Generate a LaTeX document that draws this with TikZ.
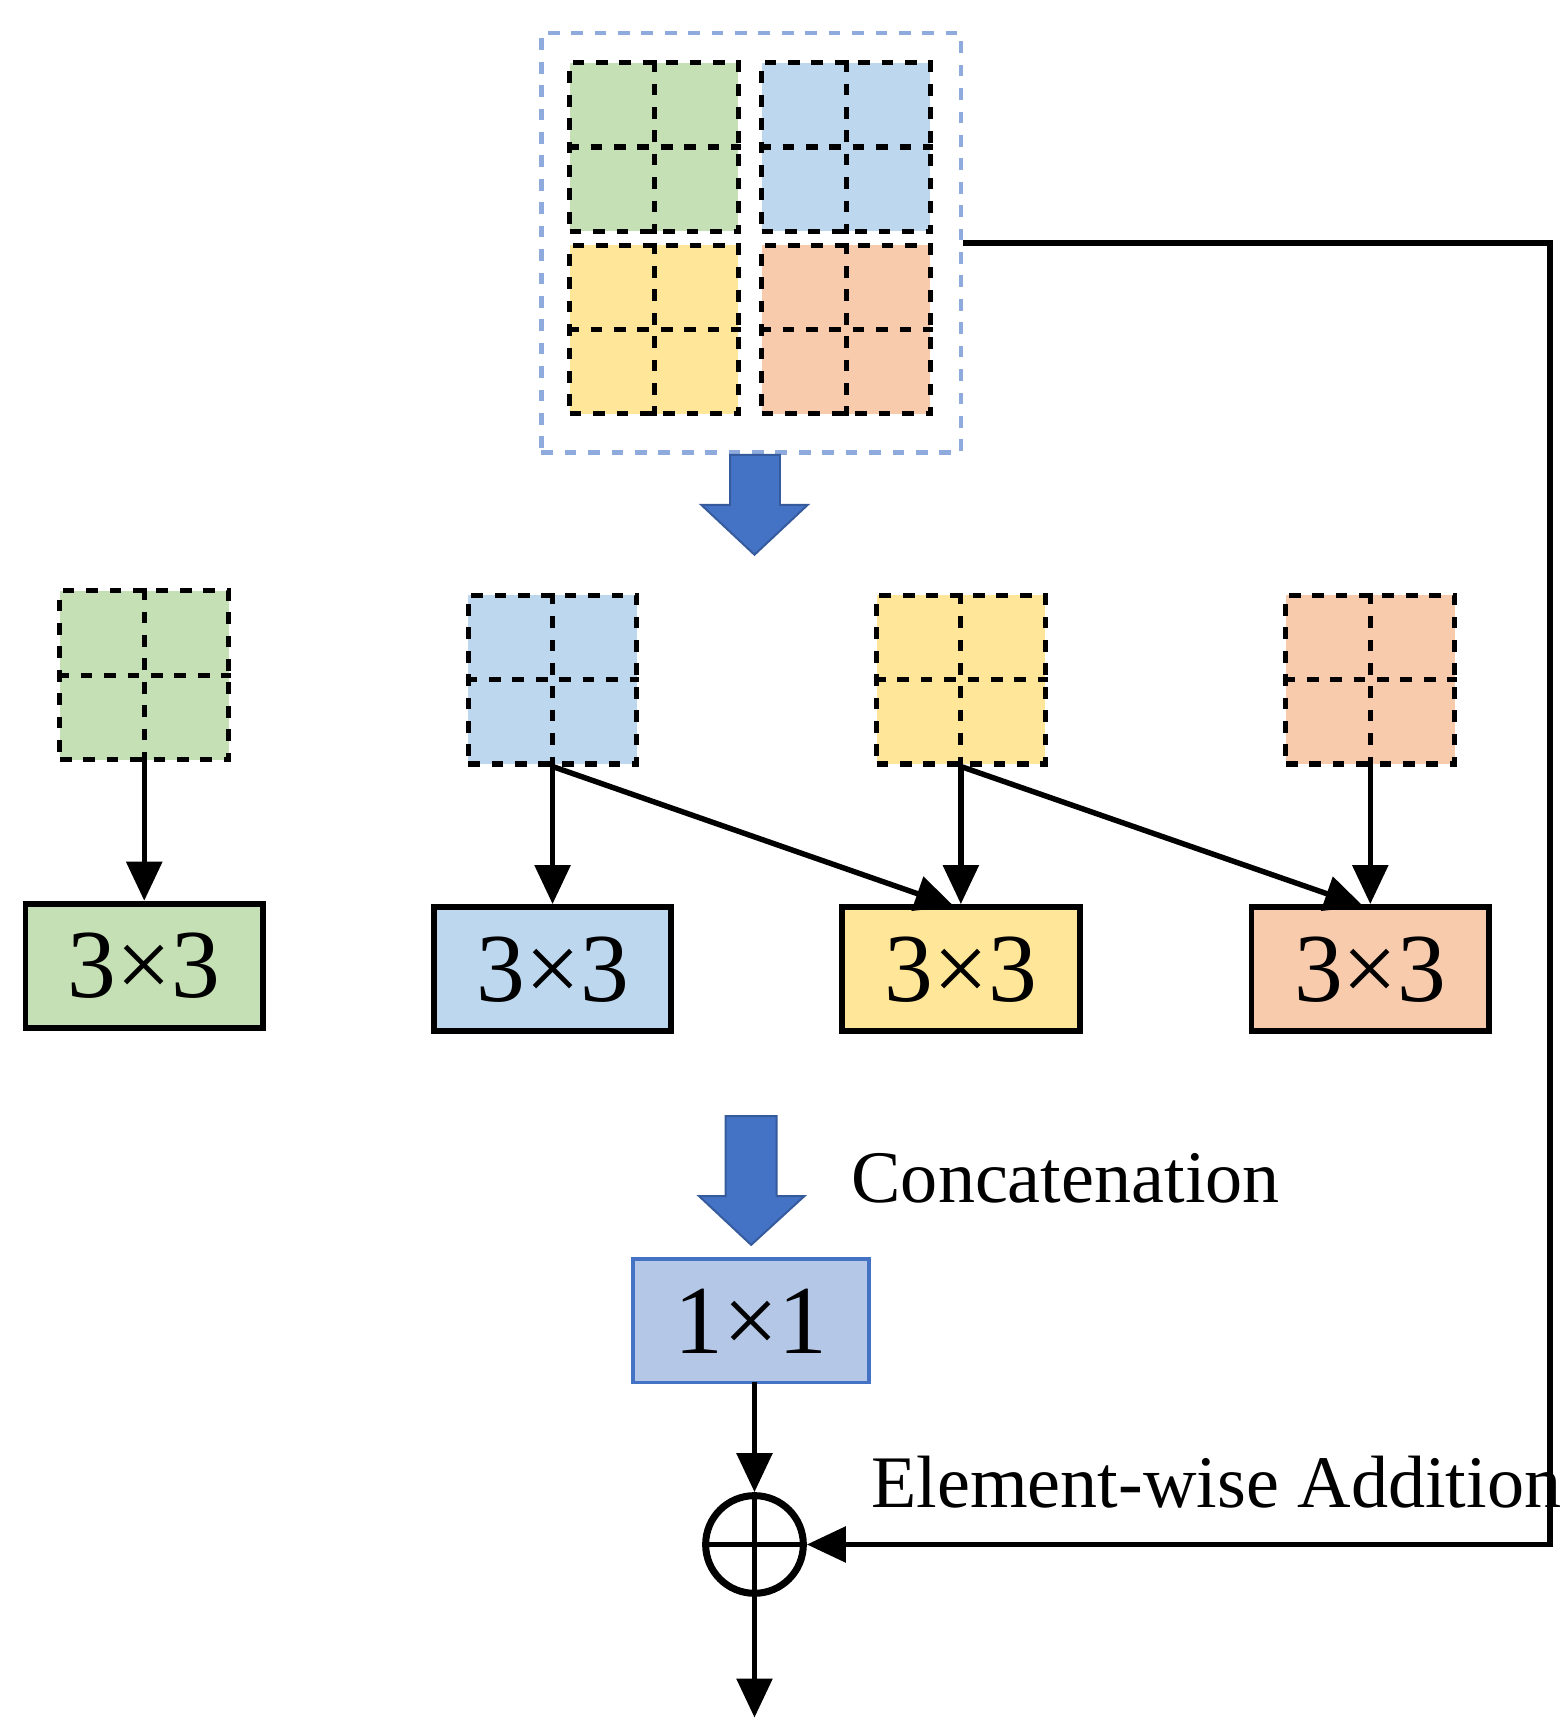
\documentclass[tikz,border=0pt]{standalone}
\usepackage{fontspec}
\setmainfont{Liberation Serif}
\usetikzlibrary{arrows.meta}
\definecolor{cg}{HTML}{C5E0B4}
\definecolor{cb}{HTML}{BDD7EE}
\definecolor{cy}{HTML}{FFE699}
\definecolor{co}{HTML}{F8CBAD}
\definecolor{arr}{HTML}{4472C4}
\definecolor{outer}{HTML}{8FAADC}
\definecolor{one}{HTML}{B4C7E7}
\tikzset{
  grid/.style={draw,dashed,line width=1.3pt,minimum width=1.52cm,minimum height=1.52cm,inner sep=0pt},
  box/.style={draw,line width=1.5pt,minimum width=2.14cm,minimum height=1.12cm,inner sep=0pt,font=\fontsize{25}{25}\selectfont},
  con/.style={line width=1.4pt,-{Triangle[length=10pt,width=9pt]}},
  fat/.style={fill=arr,draw=arr!80!black,line width=0.5pt}
}
\newcommand{\gridlines}[1]{\draw[dashed,line width=1.3pt] (#1.north)--(#1.south) (#1.west)--(#1.east);}
\begin{document}
\begin{tikzpicture}[x=0.01cm,y=-0.01cm]
\useasboundingbox (0,0) rectangle (1412,1552);
\node[draw=outer,dashed,line width=1.2pt,minimum width=3.78cm,minimum height=3.78cm] (outer) at (677,219) {};
\node[grid,fill=cg] (g1) at (589.5,132.5) {}; \gridlines{g1}
\node[grid,fill=cb] (g2) at (762.5,132.5) {}; \gridlines{g2}
\node[grid,fill=cy] (g3) at (589.5,297) {}; \gridlines{g3}
\node[grid,fill=co] (g4) at (762.5,297) {}; \gridlines{g4}
\draw[fat] (658,410)--(703,410)--(703,455)--(728,455)--(680,500)--(632,455)--(658,455)--cycle;
\node[grid,fill=cg] (s1) at (130,608.5) {}; \gridlines{s1}
\node[grid,fill=cb] (s2) at (498,612.5) {}; \gridlines{s2}
\node[grid,fill=cy] (s3) at (866,612.5) {}; \gridlines{s3}
\node[grid,fill=co] (s4) at (1235,612.5) {}; \gridlines{s4}
\node[box,fill=cg] (b1) at (130,870.5) {3×3};
\node[box,fill=cb] (b2) at (498,873.5) {3×3};
\node[box,fill=cy] (b3) at (866,873.5) {3×3};
\node[box,fill=co] (b4) at (1235,873.5) {3×3};
\draw[con] (s1.south)--(b1.north);
\draw[con] (s2.south)--(b2.north);
\draw[con] (s3.south)--(b3.north);
\draw[con] (s4.south)--(b4.north);
\coordinate (d1) at (860,817); \coordinate (d2) at (1229,817);
\draw[con] (s2.south)--(d1);
\draw[con] (s3.south)--(d2);
\draw[fat] (654,1006)--(700,1006)--(700,1078)--(725,1078)--(677,1122)--(630,1078)--(654,1078)--cycle;
\node[anchor=west,font=\fontsize{19}{19}\selectfont] (cat) at (755,1062) {Concatenation};
\node[draw=arr,line width=1pt,fill=one,minimum width=2.13cm,minimum height=1.11cm,font=\fontsize{25}{25}\selectfont] (one) at (677,1190.5) {1×1};
\node[draw,circle,line width=1.8pt,minimum size=0.88cm,inner sep=0pt] (add) at (680,1392) {};
\draw[line width=1.5pt] (add.north)--(add.south) (add.west)--(add.east);
\node[anchor=west,font=\fontsize{19}{19}\selectfont] (ew) at (773,1336) {Element-wise Addition};
\draw[con] (680,1246)--(add.north);
\coordinate (out) at (680,1548);
\draw[con] (add.south)--(out);
\coordinate (c1) at (1397,219);
\draw[con] (outer.east|-c1)--(c1)|-(add.east);
\end{tikzpicture}
\end{document}
